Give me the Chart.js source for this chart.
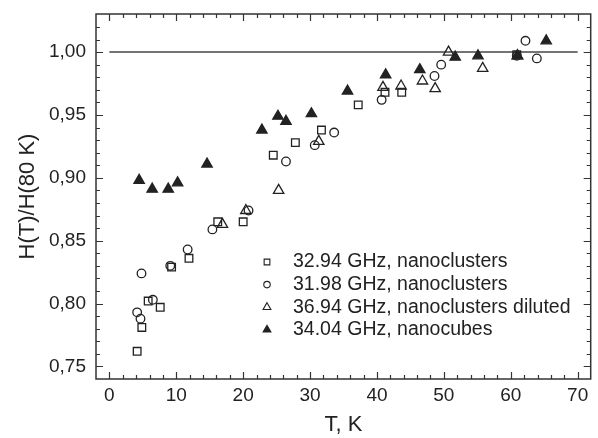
<!DOCTYPE html>
<html>
<head>
<meta charset="utf-8">
<script src="https://cdn.jsdelivr.net/npm/chart.js@4.4.1/dist/chart.umd.min.js"></script>
<style>
body { margin: 0; background: #fff; }
#wrap { width: 598px; height: 438px; }
</style>
</head>
<body>
<div id="wrap"><canvas id="myChart" width="598" height="438"></canvas></div>
<script>
// 32.94 GHz, nanoclusters (open squares)
var sqT = [4.15, 4.85, 5.8, 7.6, 9.3, 11.9, 16.2, 20.0, 24.5, 27.8, 31.7, 37.2, 41.2, 43.7, 60.9];
var sqH = [0.762, 0.781, 0.802, 0.797, 0.829, 0.836, 0.865, 0.865, 0.918, 0.928, 0.938, 0.958, 0.968, 0.968, 0.998];
// 31.98 GHz, nanoclusters (open circles)
var ciT = [4.15, 4.65, 4.8, 6.5, 9.1, 11.7, 15.4, 20.8, 26.4, 30.7, 33.6, 40.7, 48.6, 49.6, 60.9, 62.2, 63.9];
var ciH = [0.793, 0.788, 0.824, 0.803, 0.830, 0.843, 0.859, 0.874, 0.913, 0.926, 0.936, 0.962, 0.981, 0.990, 0.997, 1.009, 0.995];
// 36.94 GHz, nanoclusters diluted (open triangles)
var trT = [16.9, 20.4, 25.3, 31.3, 40.9, 43.6, 46.8, 48.7, 50.7, 55.8, 61.0];
var trH = [0.863, 0.874, 0.890, 0.929, 0.972, 0.973, 0.977, 0.971, 1.000, 0.987, 0.997];
// 34.04 GHz, nanocubes (filled triangles)
var cuT = [4.45, 6.4, 8.8, 10.2, 14.6, 22.8, 25.2, 26.4, 30.2, 35.6, 41.3, 46.4, 51.7, 55.1, 61.0, 65.3];
var cuH = [0.898, 0.891, 0.891, 0.896, 0.911, 0.938, 0.949, 0.945, 0.951, 0.969, 0.982, 0.986, 0.996, 0.997, 0.997, 1.009];
// reference level
var refT = [0, 70];
var refH = [1, 1];

var labels = ['32.94 GHz, nanoclusters', '31.98 GHz, nanoclusters', '36.94 GHz, nanoclusters diluted', '34.04 GHz, nanocubes'];
var xTicks = [0, 10, 20, 30, 40, 50, 60, 70];
var yTicks = [0.75, 0.80, 0.85, 0.90, 0.95, 1.00];

var ink = '#222';
var font = '"Liberation Sans", Arial, Helvetica, sans-serif';

function points(xs, ys) {
    return xs.map(function (x, i) { return {x: x, y: ys[i]}; });
}

function marker(label, xs, ys, style, radius, fill) {
    return {
        label: label,
        data: points(xs, ys),
        pointStyle: style,
        pointRadius: radius,
        pointBorderWidth: 1.3,
        pointBorderColor: ink,
        pointBackgroundColor: fill,
        showLine: false
    };
}

var datasets = [
    marker(labels[0], sqT, sqH, 'rect', 5.4, 'rgba(0,0,0,0)'),
    marker(labels[1], ciT, ciH, 'circle', 4.3, 'rgba(0,0,0,0)'),
    marker(labels[2], trT, trH, 'triangle', 6, 'rgba(0,0,0,0)'),
    marker(labels[3], cuT, cuH, 'triangle', 6, ink),
    {
        label: 'ref',
        data: points(refT, refH),
        showLine: true,
        pointRadius: 0,
        borderColor: '#444',
        borderWidth: 1.5
    }
];

// box with inward ticks on all four sides
var framePlugin = {
    id: 'frame',
    afterDatasetsDraw: function (chart) {
        var a = chart.chartArea, xs = chart.scales.x, ys = chart.scales.y, ctx = chart.ctx;
        ctx.save();
        ctx.strokeStyle = '#333';
        ctx.lineWidth = 1.5;
        ctx.strokeRect(a.left, a.top, a.right - a.left, a.bottom - a.top);
        ctx.lineWidth = 1.2;
        ctx.beginPath();
        for (var t = 0; t <= 70; t += 2) {
            var px = Math.round(xs.getPixelForValue(t)) + 0.5;
            var len = t % 10 === 0 ? 7 : 4;
            ctx.moveTo(px, a.bottom); ctx.lineTo(px, a.bottom - len);
            ctx.moveTo(px, a.top); ctx.lineTo(px, a.top + len);
        }
        for (var k = 75; k <= 102; k++) {
            var py = Math.round(ys.getPixelForValue(k / 100)) + 0.5;
            var len2 = k % 5 === 0 ? 7 : 4;
            ctx.moveTo(a.left, py); ctx.lineTo(a.left + len2, py);
            ctx.moveTo(a.right, py); ctx.lineTo(a.right - len2, py);
        }
        ctx.stroke();
        ctx.restore();
    }
};

// legend inside the plot, lower right
var legendPlugin = {
    id: 'innerLegend',
    afterDraw: function (chart) {
        var ctx = chart.ctx;
        ctx.save();
        ctx.font = '19.5px ' + font;
        ctx.textBaseline = 'middle';
        for (var i = 0; i < 4; i++) {
            var ds = chart.data.datasets[i];
            var y = 262 + i * 22.6;
            ctx.fillStyle = ds.pointBackgroundColor;
            ctx.strokeStyle = ink;
            ctx.lineWidth = 1.1;
            Chart.helpers.drawPoint(ctx, {
                pointStyle: ds.pointStyle,
                radius: ds.pointRadius * 0.75,
                borderWidth: 1.1,
                rotation: 0
            }, 267, y);
            ctx.fillStyle = ink;
            ctx.fillText(ds.label, 293, y);
        }
        ctx.restore();
    }
};

function noPad(s) {
    s.paddingTop = 0;
    s.paddingBottom = 0;
    s.paddingLeft = 0;
    s.paddingRight = 0;
}

var myChart = new Chart('myChart', {
    type: 'scatter',
    data: {datasets: datasets},
    plugins: [framePlugin, legendPlugin],
    options: {
        responsive: false,
        animation: false,
        events: [],
        layout: {padding: {top: 14, right: 6, bottom: 0, left: 0}},
        plugins: {legend: {display: false}, tooltip: {enabled: false}},
        scales: {
            x: {
                type: 'linear',
                min: -2,
                max: 71.95,
                afterBuildTicks: function (s) {
                    s.ticks = xTicks.map(function (v) { return {value: v}; });
                },
                afterFit: function (s) { s.height = 59; noPad(s); },
                grid: {display: false, drawTicks: false},
                border: {display: false},
                ticks: {
                    color: ink,
                    font: {family: font, size: 19},
                    padding: 5,
                    maxRotation: 0,
                    autoSkip: false
                },
                title: {
                    display: true,
                    text: 'T, K',
                    color: ink,
                    font: {family: font, size: 22},
                    padding: {top: 0, bottom: 0}
                }
            },
            y: {
                type: 'linear',
                min: 0.74,
                max: 1.0303,
                afterBuildTicks: function (s) {
                    s.ticks = yTicks.map(function (v) { return {value: v}; });
                },
                afterFit: function (s) { s.width = 96; noPad(s); },
                grid: {display: false, drawTicks: false},
                border: {display: false},
                ticks: {
                    color: ink,
                    font: {family: font, size: 19},
                    padding: 10,
                    callback: function (v) { return v.toFixed(2).replace('.', ','); }
                },
                title: {
                    display: true,
                    text: 'H(T)/H(80 K)',
                    color: ink,
                    font: {family: font, size: 22},
                    padding: {top: 15, bottom: 0}
                }
            }
        }
    }
});
</script>
</body>
</html>
